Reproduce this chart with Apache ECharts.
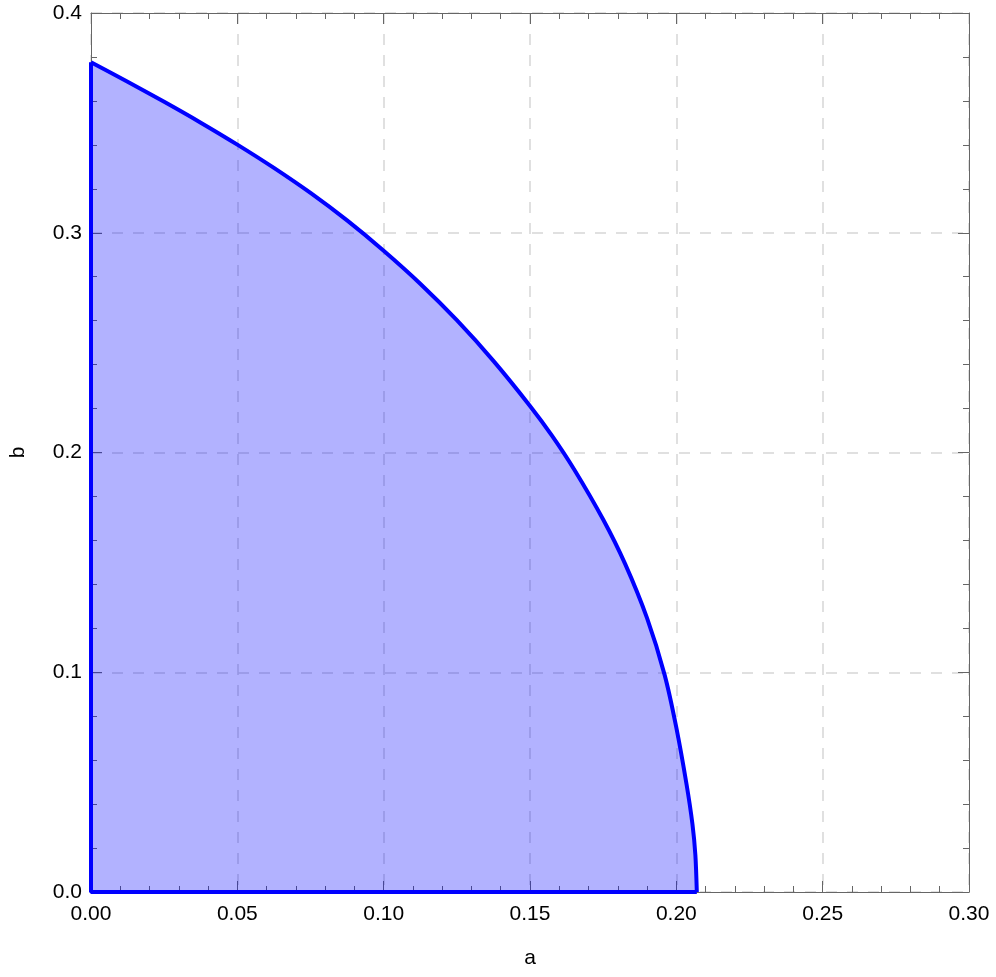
<!DOCTYPE html>
<html>
<head>
<meta charset="utf-8">
<script src="https://cdn.jsdelivr.net/npm/echarts@6/dist/echarts.min.js"></script>
<style>
  html, body { margin: 0; padding: 0; background: #fff; }
  #chart { width: 996px; height: 977px; }
</style>
</head>
<body>
<div id="chart"></div>
<script>
// boundary curve b(a)
var aVals = [0, 0.0125, 0.025, 0.0375, 0.05, 0.0625, 0.075, 0.0875, 0.10, 0.1125, 0.125, 0.1375, 0.15, 0.1575, 0.165, 0.175, 0.1825, 0.19, 0.196, 0.20, 0.2035, 0.2055, 0.2065, 0.207];
var bVals = [0.3776, 0.3687, 0.3596, 0.3501, 0.3401, 0.3295, 0.3181, 0.3056, 0.2918, 0.2768, 0.2602, 0.2417, 0.2212, 0.2077, 0.1925, 0.1695, 0.1493, 0.1246, 0.0988, 0.0748, 0.0489, 0.0309, 0.0169, 0];

var curve = aVals.map(function (a, i) { return [a, bVals[i]]; });
// left edge and bottom edge of the region
var edges = [[0, bVals[0]], [0, 0], [aVals[aVals.length - 1], 0]];

var frameColor = '#666';
var gridColor = '#d6d6d6';
var font = 'Liberation Sans, Arial, sans-serif';

function xAxisOf(pos, show) {
    return {
        type: 'value', position: pos, min: 0, max: 0.3, interval: 0.05,
        name: show ? 'a' : '', nameLocation: 'middle', nameGap: 56,
        nameTextStyle: { fontSize: 21, color: '#000', fontFamily: font },
        axisLine: { show: true, onZero: false, lineStyle: { color: frameColor, width: 1 } },
        axisTick: { show: true, inside: true, length: 11, lineStyle: { color: frameColor } },
        minorTick: { show: true, splitNumber: 5, length: 6, lineStyle: { color: frameColor } },
        axisLabel: {
            show: show, margin: 12, fontSize: 21, color: '#000', fontFamily: font,
            formatter: function (v) { return v.toFixed(2); }
        },
        splitLine: { show: show, lineStyle: { color: gridColor, width: 1.5, type: [11, 10] } }
    };
}
function yAxisOf(pos, show) {
    return {
        type: 'value', position: pos, min: 0, max: 0.4, interval: 0.1,
        name: show ? 'b' : '', nameLocation: 'middle', nameGap: 62,
        nameTextStyle: { fontSize: 21, color: '#000', fontFamily: font },
        axisLine: { show: true, onZero: false, lineStyle: { color: frameColor, width: 1 } },
        axisTick: { show: true, inside: true, length: 11, lineStyle: { color: frameColor } },
        minorTick: { show: true, splitNumber: 5, length: 6, lineStyle: { color: frameColor } },
        axisLabel: {
            show: show, margin: 9, fontSize: 21, color: '#000', fontFamily: font,
            formatter: function (v) { return v.toFixed(1); }
        },
        splitLine: { show: show, lineStyle: { color: gridColor, width: 1.5, type: [11, 10] } }
    };
}

var chart = echarts.init(document.getElementById('chart'));
chart.setOption({
    animation: false,
    backgroundColor: '#fff',
    grid: { left: 90, right: 27, top: 13, bottom: 85 },
    xAxis: [xAxisOf('bottom', true), xAxisOf('top', false)],
    yAxis: [yAxisOf('left', true), yAxisOf('right', false)],
    series: [
        {
            type: 'line',
            data: curve,
            smooth: 0.3,
            showSymbol: false,
            lineStyle: { color: '#0000ff', width: 4 },
            areaStyle: { color: 'rgba(0,0,255,0.3)', opacity: 1, origin: 'start' },
            z: 2
        },
        {
            type: 'line',
            data: edges,
            showSymbol: false,
            lineStyle: { color: '#0000ff', width: 4 },
            z: 3
        }
    ]
});
</script>
</body>
</html>
